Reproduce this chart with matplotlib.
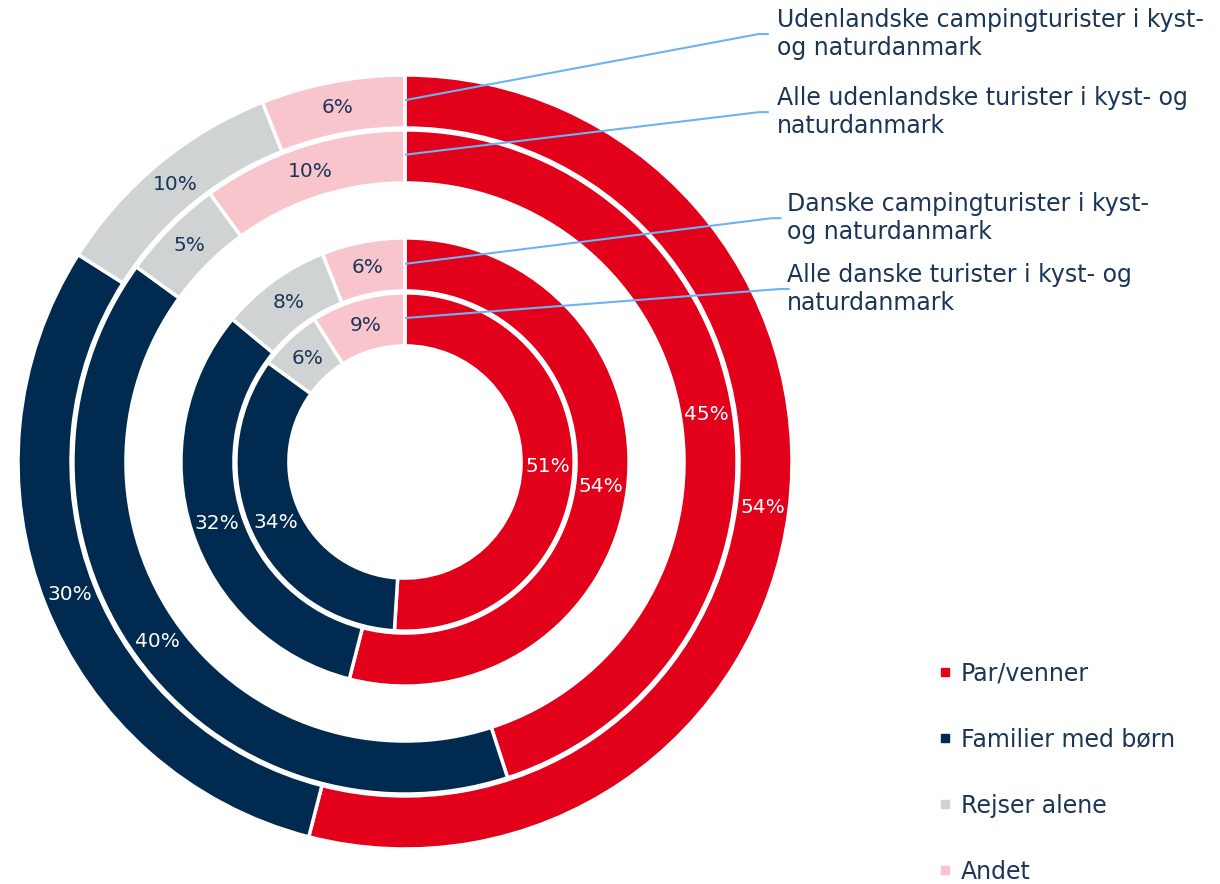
import matplotlib
matplotlib.use('Agg')
import matplotlib.pyplot as plt
from matplotlib.lines import Line2D

plt.rcParams['font.family'] = ['DejaVu Sans']

CATEGORIES = ['Par/venner', 'Familier med børn', 'Rejser alene', 'Andet']
COLORS = ['#E2001A', '#002A50', '#D0D3D4', '#F8C5CD']
PCT_COLORS = ['white', 'white', '#1B3557', '#1B3557']
NAVY = '#1B3557'
LINE_BLUE = '#6BB3F3'

# rings from outside to inside
RING_NAMES = [
    'Udenlandske campingturister i kyst-\nog naturdanmark',
    'Alle udenlandske turister i kyst- og\nnaturdanmark',
    'Danske campingturister i kyst-\nog naturdanmark',
    'Alle danske turister i kyst- og\nnaturdanmark',
]
udl_camping = [54, 30, 10, 6]
udl_alle = [45, 40, 5, 10]
dk_camping = [54, 32, 8, 6]
dk_alle = [51, 34, 6, 9]
RINGS = [udl_camping, udl_alle, dk_camping, dk_alle]

RADII = [1.0, 0.858, 0.579, 0.437]
WIDTH = 0.137

# annotation line anchors / elbows in data coords (center of pie = 0,0)
ANCHORS = [(0.0, 0.935), (0.0, 0.794), (0.0, 0.512), (0.0, 0.372)]
ELBOWS = [(0.915, 1.106), (0.915, 0.904), (0.948, 0.630), (0.969, 0.447)]
TEXT_X = [0.96, 0.96, 0.987, 0.987]

fig = plt.figure(figsize=(12.2, 8.84), dpi=100)
ax = fig.add_axes([18 / 1220, 35 / 884, 774 / 1220, 774 / 884])

for vals, r in zip(RINGS, RADII):
    wedges, texts, autotexts = ax.pie(
        vals, radius=r, startangle=90, counterclock=False, colors=COLORS,
        wedgeprops=dict(width=WIDTH, edgecolor='white', linewidth=2.5),
        autopct='%.0f%%', pctdistance=(r - WIDTH / 2) / r)
    for t, c in zip(autotexts, PCT_COLORS):
        t.set_color(c)
        t.set_fontsize(14.5)

ax.set_xlim(-1, 1)
ax.set_ylim(-1, 1)
ax.set_aspect('equal')
ax.axis('off')

for name, (ax0, ay0), (ex, ey), tx in zip(RING_NAMES, ANCHORS, ELBOWS, TEXT_X):
    ax.plot([ax0, ex, ex + 0.025], [ay0, ey, ey], color=LINE_BLUE, lw=1.5,
            clip_on=False, solid_capstyle='butt')
    ax.text(tx, ey, name, color=NAVY, fontsize=17, ha='left', va='center',
            linespacing=1.2, clip_on=False)

handles = [Line2D([], [], marker='s', color=c, linestyle='none', markersize=6)
           for c in COLORS]
leg = fig.legend(handles, CATEGORIES, loc='upper left',
                 bbox_to_anchor=(928 / 1220, 1 - 652 / 884), frameon=False,
                 fontsize=17, labelspacing=1.78, handlelength=0.6,
                 handletextpad=0.4, borderaxespad=0)
for t in leg.get_texts():
    t.set_color(NAVY)

fig.savefig('out.png', dpi=100)
